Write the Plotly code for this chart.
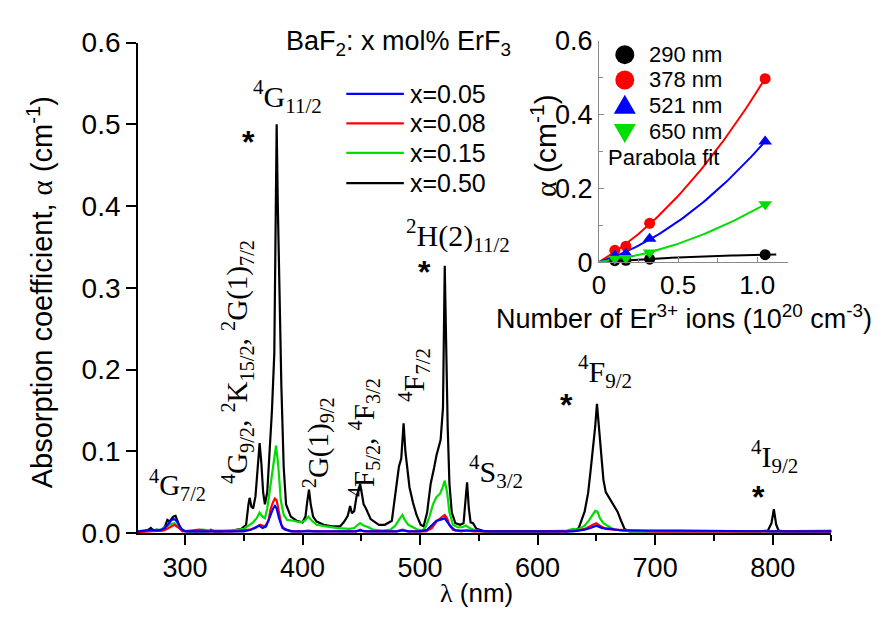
import numpy as np
import plotly.graph_objects as go

# ---------------- data: absorption spectra (nm, cm^-1) ----------------
wl_black = [260, 265, 268, 271, 273, 276, 280, 283, 285, 287, 289, 290, 292, 294, 296, 298, 302, 310, 320, 322,
            325, 330, 340, 348, 352, 354, 355, 356.5, 358, 360, 362, 363.5, 365, 366.5, 368, 370, 372, 374, 376,
            377, 378, 379, 380.5, 382, 384, 386, 390, 395, 400, 402.5, 404, 405.5, 407, 409, 412, 418, 425,
            432, 435.5, 438.5, 440.5, 442, 444, 446, 447.5, 449, 450.5, 452, 454, 458, 465, 470, 476, 479, 482,
            484, 486, 487.5, 489, 491, 494, 497, 500.5, 503, 506, 509, 512, 514, 517.5, 519.5, 521, 522, 523.5,
            525, 527, 530, 534, 537, 538.5, 540, 541.5, 543, 545, 548, 555, 565, 600, 625, 632, 635, 640, 643, 645,
            647, 649, 650.5, 652, 654, 656, 658, 661, 664, 668, 671, 674, 678, 690, 720, 760, 790, 796, 799, 801,
            803, 805, 810, 830, 850]
a_black = [0.002, 0.002, 0.003, 0.006, 0.003, 0.004, 0.003, 0.008, 0.016, 0.014, 0.018, 0.020, 0.021, 0.014,
           0.006, 0.003, 0.002, 0.002, 0.002, 0.004, 0.002, 0.002, 0.003, 0.005, 0.010, 0.035, 0.043, 0.032,
           0.030, 0.045, 0.085, 0.110, 0.085, 0.050, 0.035, 0.050, 0.100, 0.150, 0.220, 0.380, 0.500, 0.400,
           0.260, 0.180, 0.080, 0.035, 0.020, 0.015, 0.013, 0.020, 0.038, 0.053, 0.035, 0.020, 0.014, 0.010,
           0.008, 0.008, 0.014, 0.021, 0.033, 0.024, 0.027, 0.045, 0.052, 0.060, 0.048, 0.035, 0.030, 0.017,
           0.010, 0.010, 0.015, 0.050, 0.081, 0.091, 0.134, 0.100, 0.083, 0.056, 0.037, 0.022, 0.010, 0.008,
           0.025, 0.060, 0.080, 0.095, 0.114, 0.153, 0.327, 0.240, 0.130, 0.060, 0.025, 0.012, 0.010, 0.012,
           0.035, 0.062, 0.030, 0.013, 0.012, 0.005, 0.002, 0.002, 0.002, 0.002, 0.003, 0.006, 0.026, 0.049,
           0.075, 0.100, 0.130, 0.158, 0.130, 0.100, 0.065, 0.050, 0.043, 0.035, 0.026, 0.015, 0.005, 0.002,
           0.002, 0.002, 0.002, 0.002, 0.003, 0.012, 0.029, 0.010, 0.003, 0.002, 0.002, 0.002]

wl_green = [260, 270, 280, 284, 288, 291, 294, 298, 305, 315, 322, 330, 340, 350, 355, 358, 361, 363.5, 366, 368,
            370, 372, 374, 376, 377.5, 379.5, 381.5, 384, 387, 392, 398, 402, 405, 408, 412, 420, 430, 440, 444,
            447, 449, 452, 456, 460, 468, 475, 479, 482, 485, 487, 490, 494, 498, 502, 505, 508, 511, 514, 517,
            519, 521, 523, 525, 528, 532, 536, 539, 542, 546, 552, 570, 600, 625, 630, 634, 640, 644, 647, 649,
            651, 653, 656, 660, 665, 680, 720, 800, 850]
a_green = [0.002, 0.003, 0.004, 0.008, 0.011, 0.012, 0.008, 0.003, 0.002, 0.004, 0.003, 0.003, 0.003, 0.005,
           0.010, 0.013, 0.018, 0.025, 0.020, 0.018, 0.030, 0.050, 0.070, 0.090, 0.107, 0.080, 0.040, 0.022,
           0.016, 0.015, 0.013, 0.015, 0.020, 0.015, 0.010, 0.008, 0.006, 0.005, 0.006, 0.010, 0.012, 0.009,
           0.007, 0.004, 0.003, 0.004, 0.009, 0.016, 0.022, 0.016, 0.010, 0.007, 0.004, 0.003, 0.008, 0.020,
           0.035, 0.044, 0.048, 0.055, 0.064, 0.050, 0.025, 0.010, 0.007, 0.007, 0.009, 0.006, 0.004, 0.002,
           0.002, 0.002, 0.003, 0.005, 0.004, 0.009, 0.016, 0.022, 0.027, 0.026, 0.018, 0.012, 0.008, 0.004,
           0.002, 0.003, 0.002, 0.003]

wl_red = [260, 275, 282, 286, 289, 291, 294, 298, 305, 312, 320, 340, 355, 360, 364, 368, 371, 373, 375, 376.5,
          378, 380, 382, 385, 392, 400, 405, 410, 430, 446, 449, 452, 470, 480, 485, 490, 505, 510, 514, 517, 519,
          521, 523, 525, 528, 535, 540, 545, 560, 620, 635, 642, 647, 650, 653, 658, 665, 680, 700, 760, 800, 850]
a_red = [0.001, 0.002, 0.003, 0.006, 0.009, 0.010, 0.007, 0.002, 0.003, 0.004, 0.002, 0.002, 0.004, 0.006, 0.010,
         0.008, 0.015, 0.030, 0.038, 0.042, 0.040, 0.025, 0.010, 0.004, 0.002, 0.002, 0.003, 0.002, 0.002, 0.002,
         0.004, 0.002, 0.002, 0.002, 0.004, 0.002, 0.002, 0.006, 0.014, 0.018, 0.020, 0.022, 0.018, 0.010, 0.004,
         0.002, 0.003, 0.002, 0.002, 0.002, 0.003, 0.006, 0.010, 0.012, 0.009, 0.005, 0.004, 0.003, 0.002, 0.002,
         0.002, 0.002]

wl_blue = [260, 268, 272, 276, 280, 283, 286, 288, 290, 292, 294, 297, 300, 310, 330, 350, 356, 360, 363, 366,
           369, 371, 373, 375, 376.5, 378, 380, 383, 390, 400, 420, 445, 449, 455, 480, 485, 490, 500, 506, 510,
           514, 517, 519, 521, 523, 526, 530, 540, 560, 630, 640, 645, 650, 655, 662, 672, 700, 760, 800, 850]
a_blue = [0.002, 0.003, 0.004, 0.003, 0.004, 0.006, 0.012, 0.015, 0.017, 0.016, 0.012, 0.005, 0.002, 0.002, 0.002,
          0.002, 0.004, 0.007, 0.009, 0.006, 0.008, 0.015, 0.024, 0.030, 0.033, 0.030, 0.018, 0.006, 0.002, 0.002,
          0.002, 0.002, 0.003, 0.002, 0.002, 0.003, 0.002, 0.002, 0.004, 0.010, 0.015, 0.016, 0.017, 0.018, 0.014,
          0.008, 0.003, 0.003, 0.002, 0.002, 0.004, 0.006, 0.009, 0.006, 0.005, 0.003, 0.003, 0.002, 0.002, 0.002]

series_names = ["x=0.05", "x=0.08", "x=0.15", "x=0.50"]

# ---------------- data: inset (alpha vs Er3+ density) ----------------
n_er = [0.10, 0.17, 0.32, 1.05]
a290 = [0.004, 0.005, 0.008, 0.020]
a378 = [0.032, 0.043, 0.105, 0.497]
a521 = [0.018, 0.023, 0.063, 0.327]
a650 = [0.009, 0.011, 0.026, 0.157]
inset_names = ["290 nm", "378 nm", "521 nm", "650 nm"]

main_xticks = [300, 400, 500, 600, 700, 800]
main_yticks = [0.0, 0.1, 0.2, 0.3, 0.4, 0.5, 0.6]
inset_xticks = [0, 0.5, 1.0]
inset_xticktext = ["0", "0.5", "1.0"]
inset_yticks = [0, 0.2, 0.4, 0.6]
inset_yticktext = ["0", "0.2", "0.4", "0.6"]

# ---------------- styling ----------------
W, H = 888, 625
SANS = "Liberation Sans, Arial, sans-serif"
SERIF = "Liberation Serif, Times New Roman, serif"
BLUE, RED, GREEN, BLACK = "#0000ff", "#ff0000", "#00dd00", "#000000"


def px(x):
    return x / W


def py(y):
    return 1 - y / H


fig = go.Figure()

# main spectra (black first so coloured curves lie on top)
for wl, a, col in [(wl_black, a_black, BLACK), (wl_green, a_green, GREEN),
                   (wl_red, a_red, RED), (wl_blue, a_blue, BLUE)]:
    fig.add_trace(go.Scatter(x=wl, y=a, mode="lines", line=dict(color=col, width=2.2),
                             showlegend=False, xaxis="x", yaxis="y"))


# inset: parabola fits (through origin) + points
def parabola_fit(xs, ys, xmax):
    X = np.array(xs)
    A = np.vstack([X, X ** 2]).T
    coef, *_ = np.linalg.lstsq(A, np.array(ys), rcond=None)
    xx = np.linspace(0, xmax, 60)
    return xx, coef[0] * xx + coef[1] * xx ** 2


inset_sets = [(a290, BLACK, "circle", 1.12), (a378, RED, "circle", n_er[-1]),
              (a521, BLUE, "triangle-up", n_er[-1]), (a650, GREEN, "triangle-down", n_er[-1])]
for ys, col, sym, xmax in inset_sets:
    xx, yy = parabola_fit(n_er, ys, xmax)
    fig.add_trace(go.Scatter(x=xx, y=yy, mode="lines", line=dict(color=col, width=2),
                             showlegend=False, xaxis="x2", yaxis="y2"))
for ys, col, sym, xmax in inset_sets:
    fig.add_trace(go.Scatter(x=n_er, y=ys, mode="markers",
                             marker=dict(color=col, symbol=sym, size=12 if sym != "circle" else 11),
                             showlegend=False, xaxis="x2", yaxis="y2", cliponaxis=False))

# ---------------- axes ----------------
fig.update_layout(
    width=W, height=H, margin=dict(l=0, r=0, t=0, b=0),
    paper_bgcolor="white", plot_bgcolor="white", showlegend=False,
    xaxis=dict(domain=[px(132), px(831)], range=[260, 850], showline=True, linecolor="black", linewidth=1.6,
               ticks="outside", ticklen=10, tickwidth=1.6, tickcolor="black", tickvals=main_xticks,
               minor=dict(ticks="outside", ticklen=6, tickwidth=1.6, tickcolor="black", dtick=50, tick0=250),
               showgrid=False, zeroline=False, tickfont=dict(family=SANS, size=27, color="black"),
               anchor="y"),
    yaxis=dict(domain=[py(545), py(29)], range=[0, 0.6], showline=True, linecolor="black", linewidth=1.6,
               ticks="outside", ticklen=10, tickwidth=1.6, tickcolor="black", tickvals=main_yticks,
               tickformat=".1f", showgrid=False, zeroline=False,
               tickfont=dict(family=SANS, size=28, color="black"), anchor="x"),
    xaxis2=dict(domain=[px(596.7), px(787)], range=[0, 1.193], showline=True, linecolor="#8a8a8a",
                linewidth=1.3, ticks="inside", ticklen=5, tickwidth=1.2, tickcolor="#8a8a8a",
                tickvals=inset_xticks, ticktext=inset_xticktext,
                minor=dict(ticks="inside", ticklen=4, tickwidth=1.2, tickcolor="#8a8a8a", dtick=0.25, tick0=0),
                showgrid=False, zeroline=False, tickfont=dict(family=SANS, size=26, color="black"),
                anchor="y2"),
    yaxis2=dict(domain=[py(260), py(27)], range=[0, 0.6], showline=True, linecolor="#8a8a8a", linewidth=1.3,
                ticks="inside", ticklen=5, tickwidth=1.2, tickcolor="#8a8a8a", tickvals=inset_yticks,
                ticktext=inset_yticktext,
                minor=dict(ticks="inside", ticklen=4, tickwidth=1.2, tickcolor="#8a8a8a", dtick=0.1, tick0=0),
                showgrid=False, zeroline=False, tickfont=dict(family=SANS, size=27, color="black"),
                anchor="x2"),
)

annotations = []
shapes = []


def ann(x, y, text, size, family=SANS, angle=0, xanchor="center", yanchor="middle", color="black"):
    annotations.append(dict(x=px(x), y=py(y), xref="paper", yref="paper", text=text, showarrow=False,
                            textangle=angle, xanchor=xanchor, yanchor=yanchor,
                            font=dict(family=family, size=size, color=color)))


# axis titles
ann(33, 292, "Absorption coefficient, <span style='font-family:Liberation Serif'>α</span> (cm<sup>-1</sup>)",
    29, angle=-90)
ann(473, 626, "<span style='font-family:Liberation Serif'>λ</span> (nm)", 26, yanchor="bottom")
ann(682, 318, "Number of Er<sup>3+</sup> ions (10<sup>20</sup> cm<sup>-3</sup>)", 27)
ann(541, 137, "<span style='font-family:Liberation Serif'>α</span> (cm<sup>-1</sup>)", 30, angle=-90)

# header
ann(395, 29, "BaF<sub>2</sub>: x mol% ErF<sub>3</sub>", 27)

# main legend
leg_cols = [BLUE, RED, GREEN, BLACK]
leg_y = [83, 114, 145, 177]
for name, col, yy in zip(series_names, leg_cols, leg_y):
    shapes.append(dict(type="line", xref="paper", yref="paper", x0=px(342), x1=px(400), y0=py(yy), y1=py(yy),
                       line=dict(color=col, width=2.2)))
    ann(404, yy, name, 25, xanchor="left")

# inset legend
ileg_y = [41.7, 68.3, 95.5, 123]
for name, (ys, col, sym, xmax), yy in zip(inset_names, inset_sets, ileg_y):
    if sym == "circle":
        shapes.append(dict(type="circle", xref="paper", yref="paper", xsizemode="pixel", ysizemode="pixel",
                           xanchor=px(622.7), yanchor=py(yy), x0=-9.5, x1=9.5, y0=-9.5, y1=9.5,
                           fillcolor=col, line=dict(width=0)))
    elif sym == "triangle-up":
        shapes.append(dict(type="path", xref="paper", yref="paper", xsizemode="pixel", ysizemode="pixel",
                           xanchor=px(622.7), yanchor=py(yy), path="M-11,-8 L11,-8 L0,11 Z",
                           fillcolor=col, line=dict(width=0)))
    else:
        shapes.append(dict(type="path", xref="paper", yref="paper", xsizemode="pixel", ysizemode="pixel",
                           xanchor=px(622.7), yanchor=py(yy), path="M-11,8 L11,8 L0,-11 Z",
                           fillcolor=col, line=dict(width=0)))
    ann(645, yy, name, 22, xanchor="left")
ann(604, 150, "Parabola fit", 22, xanchor="left")

# level assignments (serif)
ann(172, 495, "<sup>4</sup>G<sub>7/2</sub>", 29, SERIF)
ann(232, 365, "<sup>4</sup>G<sub>9/2</sub>, <sup>2</sup>K<sub>15/2</sub>, <sup>2</sup>G(1)<sub>7/2</sub>", 29,
    SERIF, angle=-90)
ann(283, 86, "<sup>4</sup>G<sub>11/2</sub>", 30, SERIF)
ann(313, 450, "<sup>2</sup>G(1)<sub>9/2</sub>", 29, SERIF, angle=-90)
ann(360, 445, "<sup>4</sup>F<sub>5/2</sub>, <sup>4</sup>F<sub>3/2</sub>", 29, SERIF, angle=-90)
ann(410, 379, "<sup>4</sup>F<sub>7/2</sub>", 30, SERIF, angle=-90)
ann(455, 232, "<sup>2</sup>H(2)<sub>11/2</sub>", 30, SERIF)
ann(493, 480, "<sup>4</sup>S<sub>3/2</sub>", 30, SERIF)
ann(603, 375, "<sup>4</sup>F<sub>9/2</sub>", 30, SERIF)
ann(774, 465, "<sup>4</sup>I<sub>9/2</sub>", 30, SERIF)

# asterisks
for xx, yy in [(243, 134), (421, 270), (564, 410), (757, 507)]:
    ann(xx, yy, "<b>*</b>", 32, SANS)

fig.update_layout(annotations=annotations, shapes=shapes)
fig.write_html("out.html")
